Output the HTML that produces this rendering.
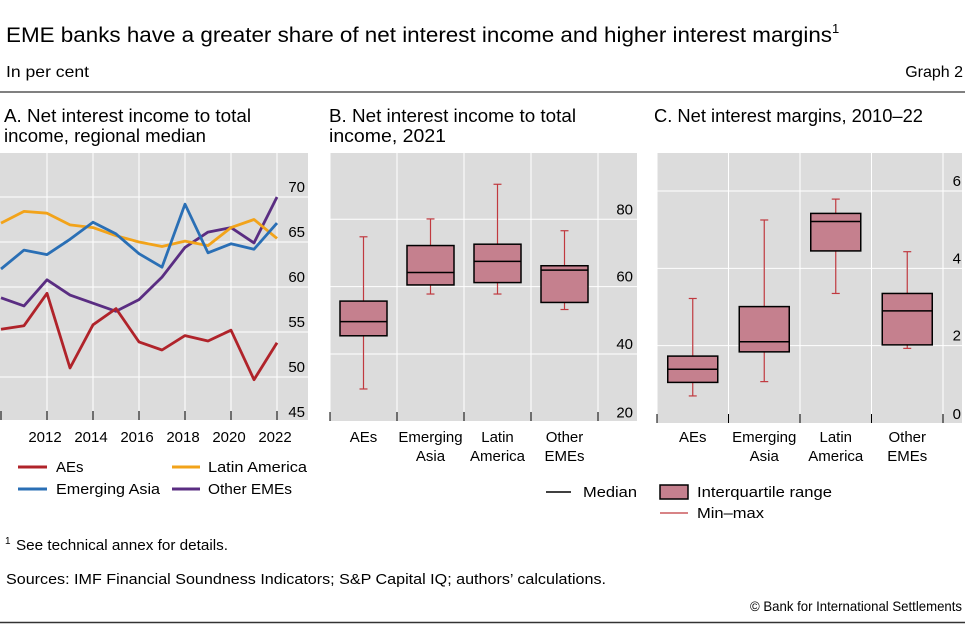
<!DOCTYPE html>
<html><head><meta charset="utf-8"><style>
body{margin:0;background:#fff;}
svg{display:block;font-family:"Liberation Sans",sans-serif;}
</style></head><body>
<svg id="c" width="965" height="624" viewBox="0 0 965 624">
<text x="6" y="42" font-size="21" fill="#000"><tspan textLength="826" lengthAdjust="spacingAndGlyphs">EME banks have a greater share of net interest income and higher interest margins</tspan><tspan font-size="13" dy="-9">1</tspan></text>
<text x="6" y="77" font-size="16" textLength="83" lengthAdjust="spacingAndGlyphs">In per cent</text>
<text x="963" y="77" font-size="16" text-anchor="end">Graph 2</text>
<line x1="0" y1="92" x2="965" y2="92" stroke="#000" stroke-width="1"/>
<text x="4" y="122" font-size="18" textLength="247" lengthAdjust="spacingAndGlyphs">A. Net interest income to total</text>
<text x="4" y="142" font-size="18" textLength="202" lengthAdjust="spacingAndGlyphs">income, regional median</text>
<text x="329" y="122" font-size="18" textLength="247" lengthAdjust="spacingAndGlyphs">B. Net interest income to total</text>
<text x="329" y="142" font-size="18" textLength="117" lengthAdjust="spacingAndGlyphs">income, 2021</text>
<text x="654" y="122" font-size="18" textLength="269" lengthAdjust="spacingAndGlyphs">C. Net interest margins, 2010–22</text>
<g id="pa"></g><g id="pb"></g><g id="pc"></g>
<g>
<line x1="18" y1="467" x2="47" y2="467" stroke="#b0232a" stroke-width="3"/><text x="56" y="472" font-size="15">AEs</text>
<line x1="18" y1="489" x2="47" y2="489" stroke="#2a6fb5" stroke-width="3"/><text x="56" y="494" font-size="15" textLength="104" lengthAdjust="spacingAndGlyphs">Emerging Asia</text>
<line x1="172" y1="467" x2="200" y2="467" stroke="#f2a31a" stroke-width="3"/><text x="208" y="472" font-size="15" textLength="99" lengthAdjust="spacingAndGlyphs">Latin America</text>
<line x1="172" y1="489" x2="200" y2="489" stroke="#5a2d82" stroke-width="3"/><text x="208" y="494" font-size="15" textLength="84" lengthAdjust="spacingAndGlyphs">Other EMEs</text>
</g>
<g>
<line x1="546" y1="492" x2="571" y2="492" stroke="#000" stroke-width="1.5"/><text x="583" y="497" font-size="15" textLength="54" lengthAdjust="spacingAndGlyphs">Median</text>
<rect x="660" y="485" width="28" height="14" fill="#c5808e" stroke="#000" stroke-width="1.5"/><text x="697" y="497" font-size="15" textLength="135" lengthAdjust="spacingAndGlyphs">Interquartile range</text>
<line x1="660" y1="513" x2="688" y2="513" stroke="#c0393f" stroke-width="1.2"/><text x="697" y="518" font-size="15" textLength="67" lengthAdjust="spacingAndGlyphs">Min–max</text>
</g>
<text x="5" y="544" font-size="10">1</text>
<text x="16" y="550" font-size="14.5" textLength="212" lengthAdjust="spacingAndGlyphs">See technical annex for details.</text>
<text x="6" y="584" font-size="14.5" textLength="600" lengthAdjust="spacingAndGlyphs">Sources: IMF Financial Soundness Indicators; S&amp;P Capital IQ; authors’ calculations.</text>
<text x="962" y="611" font-size="14" text-anchor="end" textLength="212" lengthAdjust="spacingAndGlyphs">© Bank for International Settlements</text>
<line x1="0" y1="622.5" x2="965" y2="622.5" stroke="#333" stroke-width="1.5"/>
</svg>
<script>
const years=[2010,2011,2012,2013,2014,2015,2016,2017,2018,2019,2020,2021,2022];
const aes=[55.3,55.7,59.3,51.0,55.8,57.6,53.9,53.0,54.6,54.0,55.2,49.7,53.8];
const latam=[67.1,68.4,68.2,66.9,66.6,65.7,65.0,64.5,65.1,64.6,66.6,67.5,65.4];
const asia=[62.0,64.1,63.6,65.3,67.2,65.9,63.7,62.2,69.2,63.8,64.8,64.2,67.1];
const other=[58.8,57.9,60.8,59.1,58.2,57.3,58.6,61.1,64.4,66.1,66.6,64.9,70.0];
const aTicks=[45,50,55,60,65,70];
const xTickLabels=[2012,2014,2016,2018,2020,2022];
const boxCats=[["AEs"],["Emerging","Asia"],["Latin","America"],["Other","EMEs"]];
const bMin=[29.6,57.8,57.8,53.2];
const bQ1=[45.4,60.5,61.2,55.3];
const bMed=[49.6,64.2,67.5,64.9];
const bQ3=[55.7,72.2,72.6,66.2];
const bMax=[74.8,80.1,90.4,76.6];
const bTicks=[20,40,60,80];
const cMin=[0.70,1.07,3.35,1.93];
const cQ1=[1.05,1.84,4.45,2.02];
const cMed=[1.39,2.10,5.21,2.90];
const cQ3=[1.73,3.01,5.42,3.35];
const cMax=[3.22,5.25,5.79,4.43];
const cTicks=[0,2,4,6];
const NS="http://www.w3.org/2000/svg";
function mk(p,t,a){const e=document.createElementNS(NS,t);for(const k in a)e.setAttribute(k,a[k]);p.appendChild(e);return e;}
(function(){
const g=document.getElementById('pa');
const X0=0,X1=308,Y0=153,Y1=420;
const xs=y=>1+(y-2010)*23;
const ys=v=>197+(70-v)*9;
const bg=mk(g,'rect',{x:X0,y:Y0,width:X1-X0,height:Y1-Y0,fill:'#dcdcdc'});


aTicks.forEach(v=>{if(v>45){const l=mk(g,'line',{x1:X0,x2:X1,y1:ys(v),y2:ys(v),stroke:'#fff','stroke-width':1});

}
const t=mk(g,'text',{x:305,y:v===45?417:ys(v)-5,'font-size':15,'text-anchor':'end'});t.textContent=v;

});
xTickLabels.forEach(y=>{mk(g,'line',{x1:xs(y),x2:xs(y),y1:Y0,y2:Y1,stroke:'#fff','stroke-width':1});
mk(g,'line',{x1:xs(y),x2:xs(y),y1:Y1-9,y2:Y1,stroke:'#000','stroke-width':1});
const t=mk(g,'text',{x:xs(y)-2,y:442,'font-size':15,'text-anchor':'middle'});t.textContent=y;

});
mk(g,'line',{x1:1,x2:1,y1:Y1-9,y2:Y1,stroke:'#000','stroke-width':1});
[[other,'#5a2d82','other-emes'],[latam,'#f2a31a','latin-america'],[asia,'#2a6fb5','emerging-asia'],[aes,'#b0232a','aes']].forEach(([d,c,n])=>{
const p=mk(g,'polyline',{points:d.map((v,i)=>xs(years[i])+','+ys(v)).join(' '),fill:'none',stroke:c,'stroke-width':2.8,'stroke-linejoin':'round'});

});
})();
function boxPanel(id,X0,X1,Y0,Y1,catX0,catW,ys,ticks,mn,q1,md,q3,mx,bw,lx,name){
const g=document.getElementById(id);
const bg=mk(g,'rect',{x:X0,y:Y0,width:X1-X0,height:Y1-Y0,fill:'#dcdcdc'});


ticks.forEach((v,i)=>{if(i>0){const l=mk(g,'line',{x1:X0,x2:X1,y1:ys(v),y2:ys(v),stroke:'#fff','stroke-width':1});

}
const t=mk(g,'text',{x:lx,y:i===0?ys(v)-4:ys(v)-5,'font-size':15,'text-anchor':'end'});t.textContent=v;

});
for(let i=0;i<=4;i++){const x=catX0+i*catW;mk(g,'line',{x1:x,x2:x,y1:Y0,y2:Y1,stroke:'#fff','stroke-width':1});
mk(g,'line',{x1:x,x2:x,y1:Y1-9,y2:Y1,stroke:'#000','stroke-width':1});}
boxCats.forEach((lines,i)=>{const cx=catX0+(i+0.5)*catW;
const wl=mk(g,'line',{x1:cx,x2:cx,y1:ys(mx[i]),y2:ys(mn[i]),stroke:'#c0393f','stroke-width':1.2});


[mx[i],mn[i]].forEach(v=>mk(g,'line',{x1:cx-4,x2:cx+4,y1:ys(v),y2:ys(v),stroke:'#c0393f','stroke-width':1.2}));
const r=mk(g,'rect',{x:cx-bw/2,y:ys(q3[i]),width:bw,height:ys(q1[i])-ys(q3[i]),fill:'#c5808e',stroke:'#000','stroke-width':1.5});


const m=mk(g,'line',{x1:cx-bw/2,x2:cx+bw/2,y1:ys(md[i]),y2:ys(md[i]),stroke:'#000','stroke-width':1.5});


lines.forEach((s,j)=>{const t=mk(g,'text',{x:cx,y:442+j*19,'font-size':15,'text-anchor':'middle'});t.textContent=s;

});
});
}
boxPanel('pb',330,637,153,421,330,67,v=>421.3-(v-20)*3.367,bTicks,bMin,bQ1,bMed,bQ3,bMax,47,633,'panel-b');
boxPanel('pc',657,962,153,423,657,71.5,v=>423-v*38.67,cTicks,cMin,cQ1,cMed,cQ3,cMax,50,961,'panel-c');
</script>
</body></html>
